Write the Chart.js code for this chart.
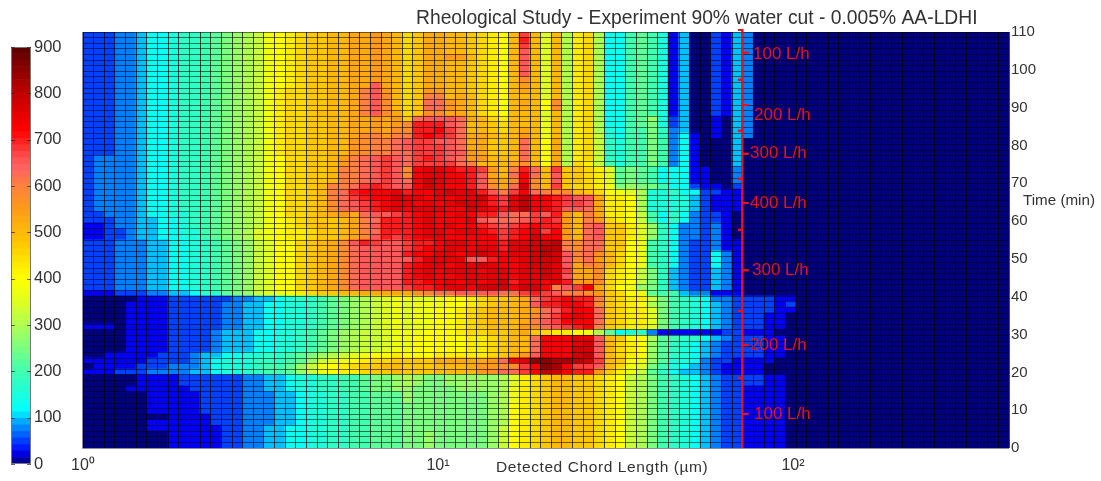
<!DOCTYPE html>
<html>
<head>
<meta charset="utf-8">
<script src="https://cdn.jsdelivr.net/npm/chart.js@4/dist/chart.umd.min.js"></script>
<style>
    html, body { margin: 0; padding: 0; background: #fff; }
    #wrap { position: relative; width: 1101px; height: 481px; overflow: hidden; }
    canvas { position: absolute; left: 0; top: 0; }
</style>
</head>
<body>
<div id="wrap">
    <canvas id="heat" width="1101" height="481"></canvas>
    <canvas id="bar" width="72" height="481"></canvas>
</div>
<script>
// Each character is one cell: its index in levelChars x levelStep = counts.
// Top row first, left column first, spaced every 10 columns. Missing columns at the right are 0.
const levelChars = '0123456789abcdefghijklmnopqrstuvwxyz';
const levelStep = 25;
const columnCount = 87;
const heatRows = [
    '2223345567 789abcdfgh ijjkkllmlk ijllkkjihg krkekchic5 5898614002 1430000000',
    '2223345567 789abcdfgh ijjkkllmlk ijllkkjihg kskekchic5 5898614002 1430000000',
    '2223345567 789abcdfgh ijjkkllmlk ijllkkjihg krkekchic5 5898614002 1430000000',
    '2223345567 789abcdfgh ijjkkllmlk ijllkkjihg kqkekchic5 5898614002 1430000000',
    '2223345567 789abcdfgh ijjkkllmlk ijllmmkihg kqkekchic5 5898614002 1430000000',
    '2223345567 789abcdfgh ijjkkllmlk ijllkkjihg kqkekchic5 5898614002 1430000000',
    '2223345567 789abcdfgh ijjkkllmlk ijllkkjihg kqkekchic5 5898614002 1430000000',
    '2223345567 789abcdfgh ijjkkllmlk ijllkkjihg kqkekchic5 5898614002 1430000000',
    '2223345567 789abcdfgh ijjkkllmlk ijllkkjihg knkekchic5 5898614002 1430000000',
    '2223345567 789abcdfgh ijjkkllqlk ijllkkjihg kmkekchic5 5898614002 1430000000',
    '2223345567 789abcdfhi ijjkkloqmk ijmmkkjihg klkekchic5 5898614002 1430000000',
    '2223345567 789abcdfhi ijjkkloqnk ijooklkihg kkkekchic5 5898614002 1430000000',
    '2223345567 789abcdfhi ijjkkloqnk ijppmlkihg klkgnchic5 5898614002 1430000000',
    '2223345567 789abcdfhi ijjkkloqnk ijppmlkihg klkgnchic5 5898614002 1430000000',
    '2223345567 789abcdfhi ijkkkloqnl ijnnllkihg kkkekchic5 5898614002 1430000000',
    '2223345567 789abcdfhi ijjkkllmlm jpqqqplkih kkkekchic5 589b624001 0430000000',
    '2223345567 789abcdfhi ijjkkllmlm nsssqpkkji kkkfkchic5 589a624001 0430000000',
    '2223345567 789abcdfhi ijjkkllmln nsstrpkkji klkfkchic6 588a734001 0430000000',
    '2223345567 789abcdfhi ijjkklnomo ostsrpllkj kmkfkchid6 588a735101 0430000000',
    '2223345567 789abcdfhi ijjkkmnoop qrrqqplljj kpkglchid7 688a835100 0400000000',
    '2223345567 789abcdfhi ijjkkmnoop qrrrqplljj kpkglchid7 688a835100 0400000000',
    '2223345567 789abcdfhi ijjkkmnoop prrrqqmljj kpkglchid7 688a835100 0400000000',
    '2333345567 789abcdfgi ijjkmopqrq prsrqpmmkk kpkglchid7 688a835100 0400000000',
    '2333345567 789abcdfgi ijjkmopqrq prrrrpokkk lnkglcihd8 688a835100 0400000000',
    '2333345567 789abcdfgi ijjkoopqrq ntuutssrmk ospkrjjihe 9a98555110 0300000000',
    '2333345567 789abcdfgi ijjkoopqrq ntuuttsqlk ptpkqjjihe 9a98555110 0300000000',
    '2333345567 789abcdfgi ijjkoopqrq ptvuttsqml ntnkqjjihe 9a98555110 0300000000',
    '2333345567 789abcdfgi ijkooprsrq qtvuttsqnl pvnkrjiihf abaa855211 0200000000',
    '2333345567 789abcdfgi ijkopstttu sttuvuusqo rtponnkjig fec6675522 1100000000',
    '2333345567 789abcdfgi ijkoprsttv uututuuvsr uwttsrqqlh hgc6666421 1100000000',
    '2333345567 789abcdfgi ijknpqrstu ututuvvusr uwttsrrqlh hgc6666421 1100000000',
    '2333345567 789abcdfgi ijknpqrstu tuuuttvuts uwttsqqplh hgc6666421 1100000000',
    '2233345566 789abcdfgi ijklmlpqqr stuttutssq pprqsmkolh hgd8575322 1000000000',
    '2223344556 789abcdfgh ijjjklopss stutttuqpp pqrsrmkomi hgd8575322 1000000000',
    '1123344556 789abcdfgh ijkjkloqss stututtsrq rstssmkpqj jheb753323 1000000000',
    '1122344556 689abcefgh hijjklopss stuutuutsr sturtmkpqj jheb753323 1000000000',
    '1122344556 689abcefgh hijjklnqsr stuutttttr stvttmkpqj jheb753323 1000000000',
    '2223334455 6789abdegg ijklnqsrqq rsstuuttts uuvvwonppj jgf8753223 1100000000',
    '2223334455 6789abdegg ijklnpqqqq rsttuutuus uvvwwonppj jgf8753223 1100000000',
    '2223334455 6789abdegg ijklnpqqqq sttuutuvut uuvwvqopnk igf8753225 3100000000',
    '2223334455 6789abdegg ijklnpqqqq qsuuuuqqst tuvvvqnpmk igf8753225 3100000000',
    '2223334455 6789abdegg ijklnpqqqq stuutuuvut tuvvuqlonk igf8753225 3100000000',
    '2223334455 6789abdegg ijklnpqqqq stutuuutuu tuuvurllni hgda743224 3100000000',
    '2223334455 6789abdegg ijklnpqqqq stuttuuuuu tuuvuqllni hgda743224 3100000000',
    '2223334455 6789abdegg ijklnpqqqq ssttututuv suutusmmni hgda743224 3100000000',
    '2223334455 6789abdegg ijklnpqqqq rsstuutvvv tvvtoqrtli gfba743224 3100000000',
    '1112223344 5779abdefg hijjkkllll lnoppqqqqp prsrqoonmj igf9884331 1100000000',
    '0000011122 2222334456 7789abcdef feefgghijj klprstssoj ihhda87653 3222211000',
    '0000111122 2223344556 6789abcdef efffgghijk klqssttsnj ihgca87654 3222212000',
    '0000111122 2223344556 6789abcdef effgghijkk klmpqsttpj ihhea87654 3222211000',
    '0000111122 2223344556 6789abcdef effgghijkk klnprtutpj ihhea87654 3222110000',
    '0000111122 2223344556 6789abcdef effgghijkk kloqrtttpj ihhea87654 3222110000',
    '1110111122 2223344556 6789abcdef effgghijkk kmnpqrstoj ihhea87654 3222110000',
    '0000111122 2234445566 789abcddef ffggghiijj kljihhgfc9 5673111111 2211100000',
    '0000111122 2234445566 789abcddef fggggghhij kkptttuuqk jggc987754 3222110000',
    '0000111122 2234445566 789abcddef fggggghhij kkptttuvqk ihgb976543 2222110000',
    '0000111122 2234445566 789abcddef fggggghhij kkptttvvqk ihgb976543 2222110000',
    '0011111222 3445566778 9abcdefggh ggghhhhhij kmqtttvwqk ihgb976543 2222110000',
    '1111112222 3456667778 9bdefghiij jjjlllllmp tuyyxxwvrk jgfb966532 2111100000',
    '0111122233 3456667889 bdfghijjkk jjjkkklmmn nrtyxtrrqk ifea865432 1111000000',
    '1112223333 4456677889 bdfghhijjk jjjkkkkmnp prtwvtssmj hfd9754432 1111000000',
    '0000011112 2222233445 6677889aab cbaabbbbbc ehijkkjjih gdca876543 2222110000',
    '0000011112 2222233445 6677889aab cbaabbbbbc ehijkkjjih gdca876543 2222110000',
    '0000111111 2222233445 6677889aab baaaabbbbc fhijkkjjih gdca876543 2211110000',
    '0000001111 1222233344 5667788999 baaaaaaabc fhijkkjjih gdca876543 2211110000',
    '0000001111 1222233344 5667788999 baaaaaaabc fhijkkjjih gdca876543 2211110000',
    '0000001111 1222233344 5667788999 aaaaaaaabc ghijkkjjih gdca876543 2211110000',
    '0000001111 1222233344 5667788999 aaaaaaaabc ghijkkjjih gdca876543 2211110000',
    '0000000011 1122233344 5667788999 aaaaaaaabc ghijkkjjih gdca876543 2211110000',
    '0000001111 1122233344 5667788999 aaaaaaaabc ghijkkjjih gdca876543 2211110000',
    '0000001111 1112233445 5667788999 aaaaaaaabd ghijkkjjih gdca876543 2211110000',
    '0000000011 1112233445 5667788999 aabaaaaabd ghijkkjjih gdca876543 2211110000',
    '0000000011 1112233445 5667788999 aabaaaaabd ghijkkjjih gdca876543 2211110000',
    '0000000011 1112233445 5667788999 aabaaaaabd ghijkkjjih gdca876543 2211110000'
];

// Colour scale of the picture
const colorStops = [0, 25, 50, 75, 100, 112, 200, 275, 350, 400, 475, 550, 600, 640, 660, 720, 800, 900];
const colorValues = ['#00007f', '#0000f5', '#0040ff', '#0080ff', '#00c0ff', '#00ffff', '#40ffb0', '#98ff68', '#e0ff20',
    '#ffff00', '#ffc800', '#ff9a18', '#ff8040', '#ff6060', '#ff5050', '#ff0000', '#c00000', '#5a0000'];

// Chord length axis, time axis
const chordTicks = { 1: '10\u2070', 10: '10\u00b9', 100: '10\u00b2' };
const chordMin = 1;
const chordMax = 406;
const timeMax = 110;
const timeStep = 10;
const barMax = 900;
const barStep = 100;
const barLevels = 64;

// Red flow rate bracket (x in micrometres, y in minutes)
const flowLineX = [72, 72, 75, 72, 72, 70, 72, 72, 75, 72, 72, 70, 72, 72, 75, 72, 72, 70, 72, 72, 75, 72, 72, 70, 72, 72, 75, 72, 72, 70, 72, 72, 75, 72, 72, 70, 72, 72, 75, 72, 72, 70];
const flowLineY = [0, 9, 9, 9, 18.5, 18.5, 18.5, 27.2, 27.2, 27.2, 36.2, 36.2, 36.2, 47, 47, 47, 57.7, 57.7, 57.7, 64.8, 64.8, 64.8, 71.2, 71.2, 71.2, 77.8, 77.8, 77.8, 83.9, 83.9, 83.9, 90.7, 90.7, 90.7, 97.4, 97.4, 97.4, 104.5, 104.5, 104.5, 110.5, 110.5];
const flowLabels = ['100 L/h', '200 L/h', '300 L/h', '400 L/h', '300 L/h', '200 L/h', '100 L/h'];
const flowLabelTime = [9, 27.2, 47, 64.8, 78, 88.1, 104.2];
const flowLabelX = [754, 750, 752, 750, 750, 754, 753];

const chartTitle = 'Rheological Study - Experiment 90% water cut - 0.005% AA-LDHI';
const chordTitle = 'Detected Chord Length (\u00b5m)';
const timeTitle = 'Time (min)';

function hexToRgb(hex) {
    return [1, 3, 5].map(i => parseInt(hex.substr(i, 2), 16));
}

// Colour for a count
function valueColor(value) {
    let i = 0;
    while (i < colorStops.length - 2 && value > colorStops[i + 1]) i++;
    const t = Math.min(1, (value - colorStops[i]) / (colorStops[i + 1] - colorStops[i]));
    const a = hexToRgb(colorValues[i]);
    const b = hexToRgb(colorValues[i + 1]);
    const rgb = a.map((c, k) => Math.round(c + (b[k] - c) * t));
    return `rgb(${rgb.join(',')})`;
}

const cellValues = heatRows.map(row =>
    [...row.replace(/ /g, '').padEnd(columnCount, '0')].map(ch => levelChars.indexOf(ch) * levelStep));

// Stacked bars, bottom row first, one bar per cell
// grouped false: the flow line sits on its own x axis and would otherwise halve the bars
const rowDatasets = cellValues.slice().reverse().map(values => ({
    type: 'bar',
    xAxisID: 'x',
    yAxisID: 'y',
    stack: 'cells',
    grouped: false,
    data: values.map(() => 1),
    backgroundColor: values.map(v => valueColor(v)),
    borderWidth: 0,
    inflateAmount: 0.6,
    barPercentage: 1,
    categoryPercentage: 1
}));

const textFont = '"Liberation Sans", Arial, sans-serif';

// Title, axis names, flow labels and the axis box
const heatText = {
    id: 'heatText',
    afterDraw(chart) {
        const ctx = chart.ctx;
        const area = chart.chartArea;
        ctx.save();
        ctx.strokeStyle = '#8c8c9c';
        ctx.lineWidth = 1;
        ctx.beginPath();
        ctx.moveTo(area.left - 0.5, area.top);
        ctx.lineTo(area.left - 0.5, area.bottom + 0.5);
        ctx.lineTo(area.right, area.bottom + 0.5);
        ctx.stroke();

        // Grid lines go over the bars, so the flow line is drawn again on top of them
        chart.getDatasetMeta(chart.data.datasets.length - 1).controller.draw();

        ctx.textBaseline = 'middle';
        ctx.fillStyle = '#333';
        ctx.font = '19.3px ' + textFont;
        ctx.fillText(chartTitle, 416, 19);
        ctx.font = '15.2px ' + textFont;
        ctx.fillText(timeTitle, 1023, 201);
        ctx.font = '15.5px ' + textFont;
        ctx.letterSpacing = '0.6px';
        ctx.fillText(chordTitle, 496, 468);
        ctx.letterSpacing = '0px';

        ctx.fillStyle = '#e4141c';
        ctx.font = '17px ' + textFont;
        flowLabels.forEach((label, i) => {
            ctx.fillText(label, flowLabelX[i], chart.scales.time.getPixelForValue(flowLabelTime[i]));
        });
        ctx.restore();
    }
};

new Chart(document.getElementById('heat'), {
    data: {
        labels: cellValues[0].map((v, i) => i),
        datasets: [
            ...rowDatasets,
            {
                type: 'line',
                order: -1,
                xAxisID: 'xLog',
                yAxisID: 'time',
                data: flowLineX.map((x, i) => ({ x: x, y: flowLineY[i] })),
                borderColor: '#e8141c',
                borderWidth: 2,
                pointRadius: 0,
                tension: 0,
                clip: false
            }
        ]
    },
    options: {
        responsive: false,
        animation: false,
        devicePixelRatio: 1,
        layout: { padding: { left: 83, top: 32, right: 0, bottom: 0 } },
        plugins: { legend: { display: false }, tooltip: { enabled: false } },
        scales: {
            x: {
                type: 'category',
                offset: true,
                stacked: true,
                border: { display: false },
                ticks: { display: false, autoSkip: false },
                grid: { offset: true, drawTicks: false, z: 1, color: 'rgba(0,0,0,0.72)' },
                afterFit: scale => { scale.height = 0; }
            },
            y: {
                type: 'linear',
                min: 0,
                max: heatRows.length,
                stacked: true,
                border: { display: false },
                ticks: { display: false, autoSkip: false, stepSize: 1 },
                grid: { drawTicks: false, z: 1, color: 'rgba(0,0,0,0.55)' },
                afterFit: scale => { scale.width = 0; }
            },
            xLog: {
                type: 'logarithmic',
                position: 'bottom',
                min: chordMin,
                max: chordMax,
                grid: { display: false, drawTicks: false },
                border: { display: false },
                afterFit: scale => { scale.height = 33; },
                ticks: {
                    autoSkip: false,
                    maxRotation: 0,
                    padding: 8,
                    color: '#333',
                    font: { family: textFont, size: 16 },
                    callback: value => chordTicks[value] || ''
                }
            },
            time: {
                type: 'linear',
                position: 'right',
                min: 0,
                max: timeMax,
                grid: { display: false, drawTicks: false },
                border: { display: false },
                afterFit: scale => { scale.width = 92; },
                ticks: {
                    stepSize: timeStep,
                    padding: 2,
                    color: '#333',
                    font: { family: textFont, size: 15 }
                }
            }
        }
    },
    plugins: [heatText]
});

// Colour bar
const barValues = Array.from({ length: barLevels }, (v, i) => barMax / barLevels);

const barBox = {
    id: 'barBox',
    afterDatasetsDraw(chart) {
        const ctx = chart.ctx;
        const area = chart.chartArea;
        const scale = chart.scales.y;
        ctx.save();
        ctx.strokeStyle = '#777';
        ctx.lineWidth = 1;
        ctx.strokeRect(area.left + 0.5, area.top + 0.5, area.width - 1, area.height - 1);
        ctx.strokeStyle = 'rgba(40,40,40,0.7)';
        ctx.beginPath();
        scale.ticks.forEach(tick => {
            const y = Math.round(scale.getPixelForValue(tick.value)) + 0.5;
            ctx.moveTo(area.left, y);
            ctx.lineTo(area.left + 4, y);
            ctx.moveTo(area.right - 4, y);
            ctx.lineTo(area.right, y);
        });
        ctx.stroke();
        ctx.restore();
    }
};

new Chart(document.getElementById('bar'), {
    type: 'bar',
    data: {
        labels: ['counts'],
        datasets: barValues.map((v, i) => ({
            data: [v],
            backgroundColor: valueColor((i + 0.5) * v),
            borderWidth: 0,
            barPercentage: 1,
            categoryPercentage: 1
        }))
    },
    options: {
        responsive: false,
        animation: false,
        devicePixelRatio: 1,
        layout: { padding: { left: 11, top: 47, right: 0, bottom: 17 } },
        plugins: { legend: { display: false }, tooltip: { enabled: false } },
        scales: {
            x: { display: false, stacked: true, grid: { display: false } },
            y: {
                position: 'right',
                stacked: true,
                min: 0,
                max: barMax,
                grid: { display: false, drawTicks: false },
                border: { display: false },
                afterFit: scale => { scale.width = 41; },
                ticks: {
                    stepSize: barStep,
                    padding: 3,
                    color: '#333',
                    font: { family: textFont, size: 16.5 }
                }
            }
        }
    },
    plugins: [barBox]
});
</script>
</body>
</html>
